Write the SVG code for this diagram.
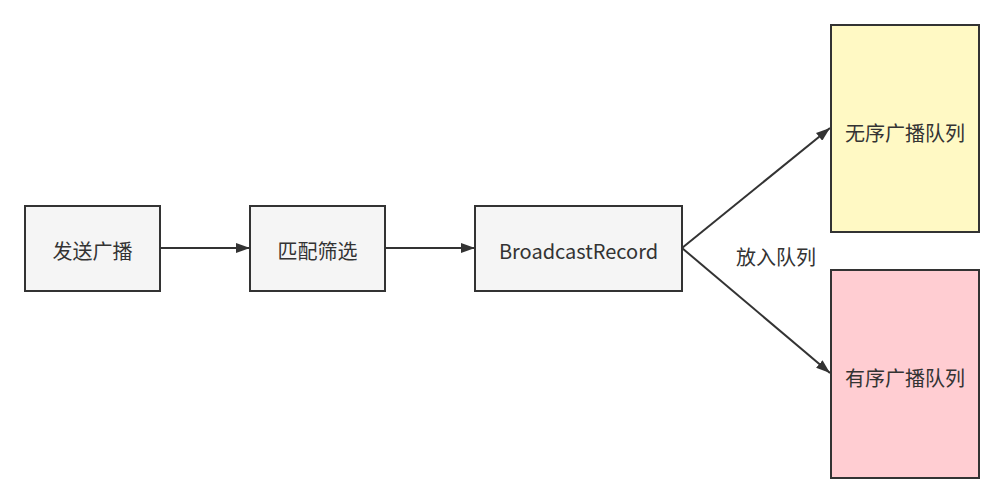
<svg xmlns="http://www.w3.org/2000/svg" width="1004" height="503" viewBox="0 0 1004 503">
<style>
.box{stroke:#333;stroke-width:2}
.t{font-family:"Microsoft YaHei","Noto Sans CJK SC",sans-serif;font-size:20px;fill:#333;text-anchor:middle;dominant-baseline:central}
.c{stroke:#333;stroke-width:2;fill:none}
</style>
<defs>
<marker id="ah" viewBox="0 0 14 10" refX="14" refY="5" markerWidth="14" markerHeight="10" markerUnits="userSpaceOnUse" orient="auto">
<path d="M0,0 L14,5 L0,10 z" fill="#333"/>
</marker>
</defs>
<rect width="1004" height="503" fill="#fff"/>
<g id="connectors">
<line class="c" x1="160" y1="248" x2="250" y2="248" marker-end="url(#ah)"/>
<line class="c" x1="385" y1="248" x2="475" y2="248" marker-end="url(#ah)"/>
<line class="c" x1="682" y1="248" x2="830" y2="128" marker-end="url(#ah)"/>
<line class="c" x1="682" y1="248" x2="830" y2="373" marker-end="url(#ah)"/>
<text class="t" x="776" y="256">放入队列</text>
</g>
<g id="n1"><rect class="box" x="25" y="206" width="135" height="85" fill="#f5f5f5"/><text class="t" x="92.5" y="250">发送广播</text></g>
<g id="n2"><rect class="box" x="250" y="206" width="135" height="85" fill="#f5f5f5"/><text class="t" x="317.5" y="250">匹配筛选</text></g>
<g id="n3"><rect class="box" x="475" y="206" width="207" height="85" fill="#f5f5f5"/><text class="t" x="578.5" y="250">BroadcastRecord</text></g>
<g id="n4"><rect class="box" x="831" y="25" width="148" height="207" fill="#fff9c4"/><text class="t" x="905" y="132">无序广播队列</text></g>
<g id="n5"><rect class="box" x="831" y="270" width="148" height="208" fill="#ffcdd2"/><text class="t" x="905" y="377">有序广播队列</text></g>
</svg>
